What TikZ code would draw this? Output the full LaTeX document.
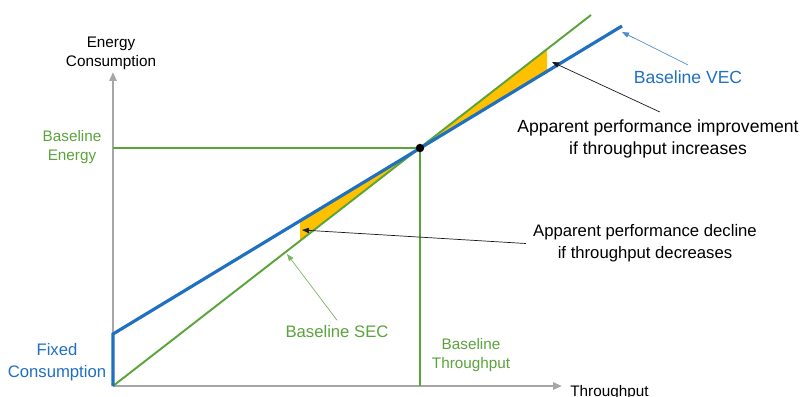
\documentclass[tikz,border=0pt]{standalone}
\usepackage{fontspec}
\setmainfont{Liberation Sans}
\usetikzlibrary{positioning, arrows.meta}
\definecolor{secGreen}{HTML}{5BA33B}
\definecolor{vecBlue}{HTML}{1F70C1}
\definecolor{gapOrange}{HTML}{FFC000}
\definecolor{axisGrey}{HTML}{A6A6A6}
\definecolor{noteBlack}{HTML}{1A1A1A}

\begin{document}
\begin{tikzpicture}[x=0.02cm, y=-0.02cm, font=\fontsize{9.5}{12.5}\selectfont,
    lbl/.style={align=center, inner sep=0pt},
    small/.style={font=\fontsize{8.7}{11}\selectfont},
    axisline/.style={axisGrey, line width=1.2pt, -{Triangle[length=5pt, width=4pt]}},
    callout/.style={line width=0.4pt, -{Triangle[length=4pt, width=3pt]}}]
  \useasboundingbox (0,0) rectangle (803,396);

  % points de référence (pixels)
  \coordinate (O)    at (113,386);
  \coordinate (ytip) at (113,72);
  \coordinate (xtip) at (562,386);
  \coordinate (B)    at (420,148);
  \coordinate (Be)   at (113,148);
  \coordinate (Bt)   at (420,386);
  \coordinate (F)    at (113,334);
  \coordinate (secEnd) at (591,15);
  \coordinate (vecEnd) at (622,26);

  % écarts entre les droites
  \fill[gapOrange] (B) -- (547,49.6) -- (547,71) -- cycle;
  \fill[gapOrange] (B) -- (300,220.7) -- (300,241) -- cycle;

  % axes
  \draw[axisline] (O) -- (ytip);
  \draw[axisline] (O) -- (xtip);

  % niveau de référence
  \draw[secGreen, line width=1.1pt] (Be) -- (B) -- (Bt);
  \draw[secGreen, line width=1.1pt] (O) -- (secEnd);
  \draw[vecBlue, line width=1.8pt] (O) -- (F) -- (vecEnd);
  \fill[black] (B) circle[radius=2.4pt];

  % textes
  \node[lbl, small] (ecLabel) at (111,53) {Energy\\Consumption};
  \node[lbl, small, anchor=base west] (tpLabel) at (570,396) {Throughput};
  \node[lbl, small, text=secGreen] (beLabel) at (72,147) {Baseline\\Energy};
  \node[lbl, text=vecBlue] (fcLabel) at (57,362) {Fixed\\Consumption};
  \node[lbl, small, text=secGreen] (btLabel) at (471,355) {Baseline\\Throughput};
  \node[lbl, text=vecBlue, font=\fontsize{10}{12.5}\selectfont] (vecLabel) at (688,77) {Baseline VEC};
  \node[lbl, text=secGreen] (secLabel) at (337,332) {Baseline SEC};
  \node[lbl, font=\fontsize{10}{12.5}\selectfont] (incLabel) at (658,138.5)
    {Apparent performance improvement\\if throughput increases};
  \node[lbl] (decLabel) at (645,243.5)
    {Apparent performance decline\\if throughput decreases};

  % flèches d'annotation
  \coordinate (incTip) at (552,62);
  \coordinate (decTip) at (302,230);
  \coordinate (vecTip) at (622,32);
  \coordinate (secTip) at (287,254);
  \draw[callout, noteBlack] ([xshift=1pt, yshift=4pt]incLabel.north) -- (incTip);
  \draw[callout, noteBlack] ([xshift=-4pt]decLabel.west) -- (decTip);
  \draw[callout, vecBlue!80] ([yshift=3pt]vecLabel.north) -- (vecTip);
  \draw[callout, secGreen!80] ([yshift=3pt]secLabel.north) -- (secTip);
\end{tikzpicture}
\end{document}
